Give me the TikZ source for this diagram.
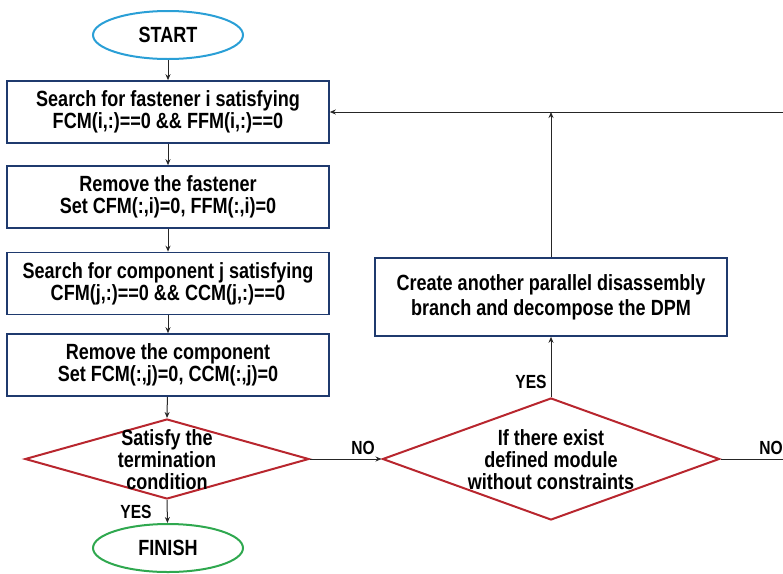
\documentclass[tikz,border=0pt]{standalone}
\usepackage{fontspec}
\newfontfamily\flowfont{Liberation Sans}[FakeStretch=0.82]
\usepackage{tikz}
\usetikzlibrary{arrows.meta, shapes.geometric, positioning}
\definecolor{boxblue}{HTML}{1F3A6E}
\definecolor{startblue}{HTML}{2A9FD6}
\definecolor{finishgreen}{HTML}{2FA84F}
\definecolor{decred}{HTML}{B8262E}
\tikzset{>={Stealth[length=6pt,width=5pt]}}
\tikzset{
  process/.style={draw=boxblue, line width=1.6pt, minimum width=322pt,
    minimum height=62pt, inner sep=0pt, align=center,
    font=\flowfont\bfseries\fontsize{22}{22}\selectfont},
  terminal/.style={ellipse, line width=2pt, minimum width=150pt,
    minimum height=48pt, inner sep=0pt,
    font=\flowfont\bfseries\fontsize{22}{22}\selectfont},
  decision/.style={diamond, draw=decred, line width=2pt, inner sep=0pt},
  dectext/.style={align=center, inner sep=0pt,
    font=\flowfont\bfseries\fontsize{22}{22}\selectfont},
  answer/.style={inner sep=0pt, font=\flowfont\bfseries\fontsize{19}{19}\selectfont},
  flow/.style={->, line width=1pt, black!85}
}

\begin{document}
\begin{tikzpicture}[x=1pt, y=-1pt]
    \useasboundingbox (0,0) rectangle (783,573);

    \node[terminal, draw=startblue] (start) at (168,35) {START};
    \node[process] (search) at (168,112) {Search for fastener i satisfying\\FCM(i,:)==0 \&\& FFM(i,:)==0};
    \node[process] (removef) at (168,197) {Remove the fastener\\Set CFM(:,i)=0, FFM(:,i)=0};
    \node[process] (searchc) at (168,283.5) {Search for component j satisfying\\CFM(j,:)==0 \&\& CCM(j,:)==0};
    \node[process] (removec) at (168,365) {Remove the component\\Set FCM(:,j)=0, CCM(:,j)=0};

    % termination test
    \node[decision, minimum width=284pt, minimum height=80pt] (term) at (167,459) {};
    \node[dectext] (termtext) at (167,460) {Satisfy the\\termination\\condition};
    \node[terminal, draw=finishgreen] (finish) at (168,548) {FINISH};

    % module test and new branch
    \node[decision, minimum width=337pt, minimum height=122pt] (module) at (551,459) {};
    \node[dectext] (moduletext) at (551,460) {If there exist\\defined module\\without constraints};
    \node[process, minimum width=352pt, minimum height=78pt,
      font=\flowfont\bfseries\fontsize{22}{25}\selectfont] (branch) at (551,297)
      {Create another parallel disassembly\\branch and decompose the DPM};

    \coordinate (loopin) at (783,112);
    \coordinate (noout) at (783,459);

    \draw[flow] (start) -- (search);
    \draw[flow] (search) -- (removef);
    \draw[flow] (removef) -- (searchc);
    \draw[flow] (searchc) -- (removec);
    \draw[flow] (removec) -- (term.north);
    \draw[flow] (term.south) -- (finish);
    \draw[flow] (term.east) -- (module.west);
    \draw[flow] (module.north) -- (branch.south);
    \draw[flow] (branch.north) -- (branch.north |- loopin);
    \draw[flow] (loopin) -- (search.east);
    \draw[line width=1pt, black!85] (module.east) -- (noout);

    \node[answer] (yes1) at (136,512) {YES};
    \node[answer] (no1) at (363,448) {NO};
    \node[answer] (yes2) at (531,382) {YES};
    \node[answer] (no2) at (771,448) {NO};
\end{tikzpicture}
\end{document}
